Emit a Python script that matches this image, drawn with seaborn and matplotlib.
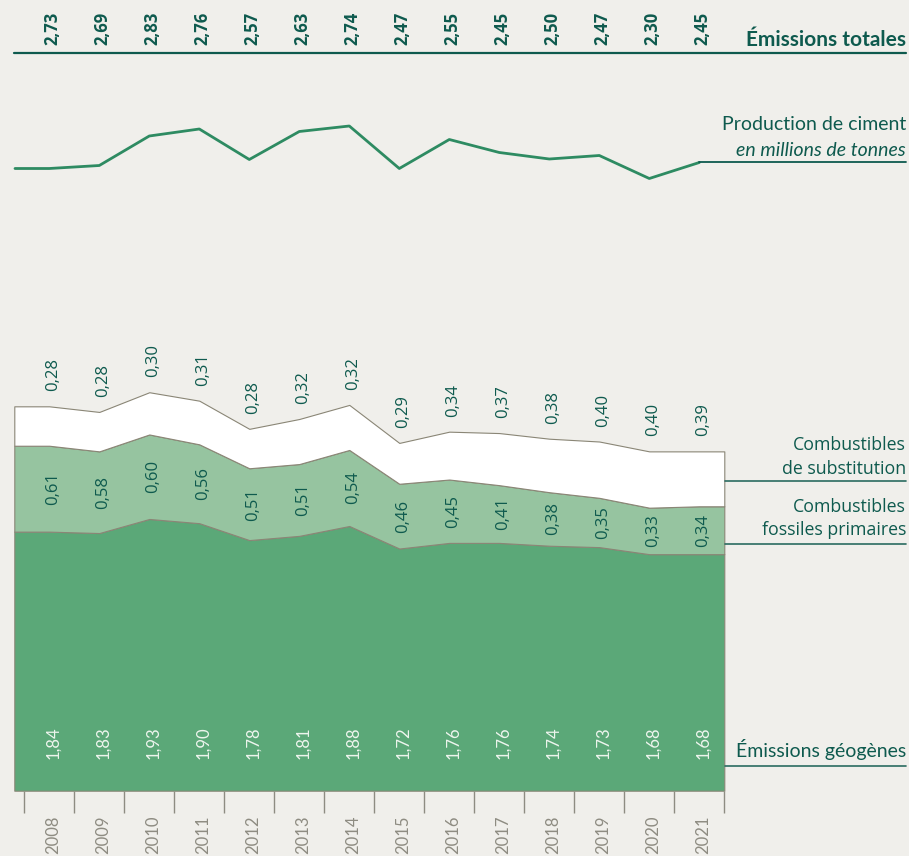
import matplotlib
matplotlib.use("Agg")
import matplotlib.pyplot as plt
import numpy as np
import seaborn as sns

# Emissions de CO2 de l'industrie du ciment, en millions de tonnes
annees = [2008, 2009, 2010, 2011, 2012, 2013, 2014, 2015, 2016, 2017, 2018, 2019, 2020, 2021]
emissions_geogenes = [1.84, 1.83, 1.93, 1.90, 1.78, 1.81, 1.88, 1.72, 1.76, 1.76, 1.74, 1.73, 1.68, 1.68]
combustibles_fossiles = [0.61, 0.58, 0.60, 0.56, 0.51, 0.51, 0.54, 0.46, 0.45, 0.41, 0.38, 0.35, 0.33, 0.34]
combustibles_substitution = [0.28, 0.28, 0.30, 0.31, 0.28, 0.32, 0.32, 0.29, 0.34, 0.37, 0.38, 0.40, 0.40, 0.39]
emissions_totales = [2.73, 2.69, 2.83, 2.76, 2.57, 2.63, 2.74, 2.47, 2.55, 2.45, 2.50, 2.47, 2.30, 2.45]
# production de ciment (millions de tonnes), estimée d'après la courbe
production_ciment = [4.53, 4.59, 5.18, 5.32, 4.71, 5.27, 5.38, 4.53, 5.11, 4.85, 4.72, 4.79, 4.33, 4.65]

FOND = "#F0EFEB"
VERT_FONCE = "#5BA878"
VERT_CLAIR = "#96C4A0"
CONTOUR = "#8A8676"
VERT_LIGNE = "#2E8B62"
TEXTE = "#0E5A4E"
FILET = "#2A6B60"
GRIS = "#8E8C82"

W, H = 909, 856
X0, PX_AN = 49.3, 50.0        # position de 2008 et largeur d'une année (px)
SOCLE, PX_MT = 790.7, 140.8   # bas des aires et échelle des émissions (px)


def fx(px):
    return px / W


def fy(py):
    return 1 - py / H


def xan(px):
    return 2008 + (px - X0) / PX_AN


def virgule(v):
    return f"{v:.2f}".replace(".", ",")


sns.set_theme(style="white", rc={"axes.facecolor": FOND, "figure.facecolor": FOND})
plt.rcParams["font.family"] = ["Open Sans", "DejaVu Sans"]

fig = plt.figure(figsize=(W / 100, H / 100), dpi=100)
ax = fig.add_axes([0, 0, 1, 1])
ax.set_xlim(xan(0), xan(W))
ax.set_ylim(-(H - SOCLE) / PX_MT, SOCLE / PX_MT)
ax.axis("off")

# aires empilées
x_ext = np.r_[xan(14.3), annees, 2021.5]


def etendre(v):
    v = np.asarray(v)
    return np.r_[v[0], v, v[-1]]


geo = etendre(emissions_geogenes)
fos = geo + etendre(combustibles_fossiles)
sub = fos + etendre(combustibles_substitution)
for bas, haut, couleur in [(0, geo, VERT_FONCE), (geo, fos, VERT_CLAIR), (fos, sub, "white")]:
    ax.fill_between(x_ext, bas, haut, facecolor=couleur, edgecolor=CONTOUR, linewidth=0.8)

# graduations et années
ax.vlines(np.arange(2007.5, 2022, 1), -(813.3 - SOCLE) / PX_MT, 0, color=GRIS, lw=1)
dx = 0.07
cond = ["Lato", "DejaVu Sans"]
for a in annees:
    ax.text(a + dx, -(835 - SOCLE) / PX_MT, str(a), rotation=90, ha="center", va="center",
            color=GRIS, fontsize=12, family=cond)

# valeurs des couches
for i, a in enumerate(annees):
    g = emissions_geogenes[i]
    f = combustibles_fossiles[i]
    s = combustibles_substitution[i]
    ax.text(a + dx, (SOCLE - 742.5) / PX_MT, virgule(g), rotation=90, ha="center", va="center",
            color="#EEF5EE", fontsize=12, family=cond)
    ax.text(a + dx, g + f / 2, virgule(f), rotation=90, ha="center", va="center",
            color=TEXTE, fontsize=12)
    ax.text(a + dx, g + f + s + 15 / PX_MT, virgule(s), rotation=90, ha="center", va="bottom",
            color=TEXTE, fontsize=12)
    ax.text(a + dx, fy(45), virgule(emissions_totales[i]), rotation=90, ha="center", va="bottom",
            color=TEXTE, fontsize=12, fontweight="bold", transform=ax.get_xaxis_transform())

# courbe de production de ciment, sur son propre axe
ax2 = ax.twinx()
ax2.set_ylim(4 - (H - 195) / 50, 4 + 195 / 50)
sns.lineplot(x=np.r_[xan(15), annees], y=np.r_[production_ciment[0], production_ciment],
             ax=ax2, color=VERT_LIGNE, linewidth=2.0, sort=False)
ax2.plot([2021, xan(906)], [production_ciment[-1]] * 2, color=TEXTE, lw=1.3)
ax2.axis("off")

# filet des émissions totales
fig.add_artist(plt.Line2D([fx(14.3), fx(906)], [fy(53.3)] * 2, color=TEXTE, lw=1.6))

# libellés à droite
fig.text(fx(906), fy(46.5), "Émissions totales", ha="right", va="baseline", color=TEXTE,
         fontsize=15, fontweight="bold", family=cond)
fig.text(fx(906), fy(130.5), "Production de ciment", ha="right", va="baseline", color=TEXTE,
         fontsize=14, family=cond)
fig.text(fx(906), fy(155.5), "en millions de tonnes", ha="right", va="baseline", color=TEXTE,
         fontsize=14, family=cond, style="italic")

fig.text(fx(906), fy(450), "Combustibles", ha="right", va="baseline", color=TEXTE, fontsize=12.8)
fig.text(fx(906), fy(474), "de substitution", ha="right", va="baseline", color=TEXTE, fontsize=12.8)
fig.text(fx(906), fy(511.5), "Combustibles", ha="right", va="baseline", color=TEXTE, fontsize=12.8)
fig.text(fx(906), fy(535), "fossiles primaires", ha="right", va="baseline", color=TEXTE, fontsize=12.8)
fig.text(fx(906), fy(757), "Émissions géogènes", ha="right", va="baseline", color=TEXTE,
         fontsize=14, family=cond)

for py in [481, 544.3, 766]:
    fig.add_artist(plt.Line2D([fx(724.5), fx(906)], [fy(py)] * 2, color=FILET, lw=1.2))

fig.savefig("out.png", dpi=100, facecolor=FOND)
